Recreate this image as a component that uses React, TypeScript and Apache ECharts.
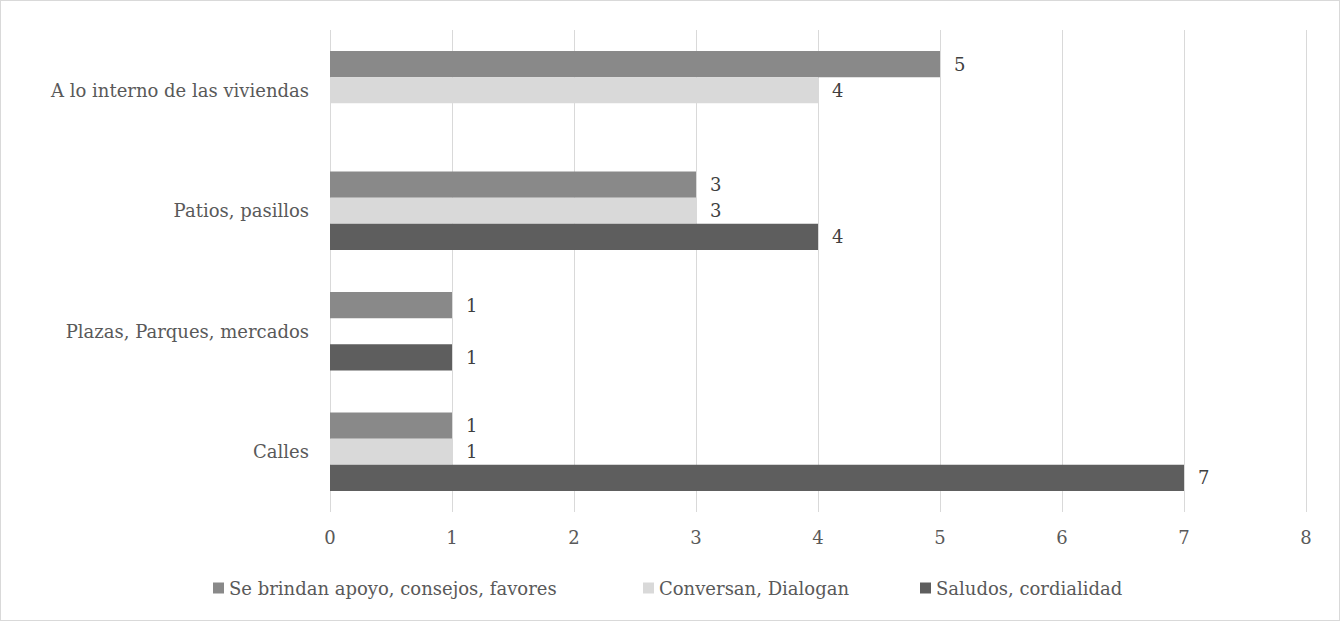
import React, { useEffect, useRef } from "react";
import * as echarts from "echarts";

// Places where the interactions happen (bottom to top on the axis)
const categories = [
  "Calles",
  "Plazas, Parques, mercados",
  "Patios, pasillos",
  "A lo interno de las viviendas",
];

const seriesNames = [
  "Se brindan apoyo, consejos, favores",
  "Conversan, Dialogan",
  "Saludos, cordialidad",
];

// null = no response recorded for that place
const apoyo = [1, 1, 3, 5];
const conversan = [1, null, 3, 4];
const saludos = [7, 1, 4, null];

const colors = ["#898989", "#d9d9d9", "#5e5e5e"];

const xTicks = { min: 0, max: 8, interval: 1 };

// left edge of each legend entry
const legendLefts = [207, 637, 914];

const FONT = "'DejaVu Serif', serif";
const FS = 18;

export default function App() {
  const ref = useRef<HTMLDivElement>(null);

  useEffect(() => {
    if (!ref.current) return;
    const chart = echarts.init(ref.current, null, { renderer: "svg" });
    const values = [apoyo, conversan, saludos];
    chart.setOption({
      animation: false,
      backgroundColor: "#ffffff",
      textStyle: { fontFamily: FONT },
      grid: { left: 329, right: 33, top: 29, bottom: 108 },
      legend: seriesNames.map((name, i) => ({
        data: [name],
        top: 573,
        left: legendLefts[i],
        itemWidth: 11,
        itemHeight: 11,
        itemGap: 0,
        icon: "rect",
        textStyle: { fontFamily: FONT, fontSize: FS, color: "#595959" },
      })),
      xAxis: {
        type: "value",
        min: xTicks.min,
        max: xTicks.max,
        interval: xTicks.interval,
        axisLine: { show: false },
        axisTick: { show: false },
        splitLine: { lineStyle: { color: "#d9d9d9", width: 1 } },
        axisLabel: { margin: 16, fontFamily: FONT, fontSize: FS, color: "#595959" },
      },
      yAxis: {
        type: "category",
        data: categories,
        axisLine: { show: false },
        axisTick: { show: false },
        axisLabel: { margin: 21, fontFamily: FONT, fontSize: FS, color: "#595959" },
      },
      series: seriesNames.map((name, i) => ({
        name,
        type: "bar",
        data: values[i],
        barGap: "0%",
        barCategoryGap: "35%",
        itemStyle: { color: colors[i] },
        label: {
          show: true,
          position: "right",
          distance: 14,
          fontFamily: FONT,
          fontSize: FS,
          color: "#404040",
        },
      })),
    });
    return () => chart.dispose();
  }, []);

  return (
    <div
      style={{
        position: "absolute",
        left: 0,
        top: 0,
        width: 1340,
        height: 621,
        boxSizing: "border-box",
        border: "1px solid #d9d9d9",
        margin: 0,
        background: "#fff",
      }}
    >
      <div ref={ref} style={{ width: 1338, height: 619 }} />
    </div>
  );
}
